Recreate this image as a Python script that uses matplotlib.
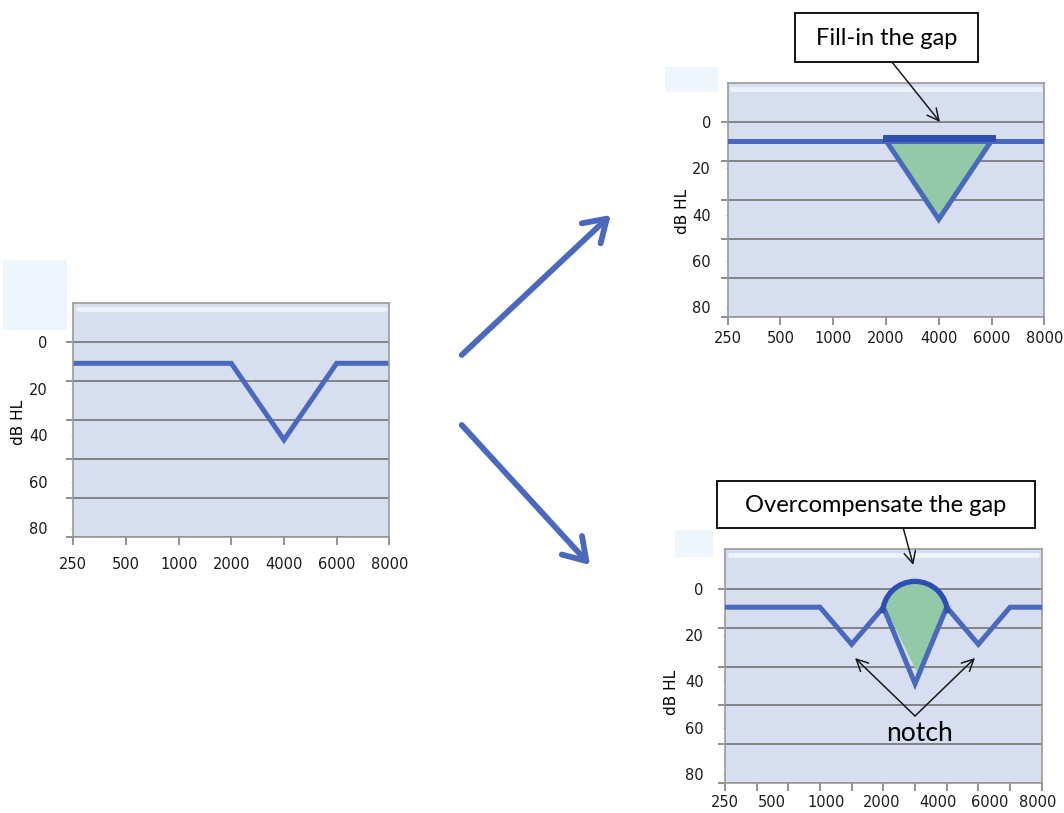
import matplotlib
matplotlib.use('Agg')
from matplotlib import pyplot as plt
from matplotlib.patches import Rectangle, Arc, Ellipse, Polygon
import numpy as np

W, H = 1064, 813

freq_labels = ['250', '500', '1000', '2000', '4000', '6000', '8000']
db_labels = [0, 20, 40, 60, 80]

# left: audiogram with the notch
orig_x = [0, 1, 2, 3, 4, 5, 6]
orig_db = [9, 9, 9, 9, 42, 9, 9]

# top right: fill-in the gap
fill_x = [0, 1, 2, 3, 4, 5, 6]
fill_db = [8, 8, 8, 8, 8, 8, 8]
fill_tri_x = [3, 4, 5]
fill_tri_db = [8, 42, 8]
fill_bar_x = [3, 5]
fill_bar_db = [7, 7]

# bottom right: overcompensate the gap
over_x = [0, 1, 2, 3, 4, 5, 6, 7, 8, 9, 10]
over_db = [8, 8, 8, 8, 24, 8, 41, 8, 24, 8, 8]
over_tri_x = [5.05, 6.1, 7.15]
over_tri_db = [8, 37, 7]
over_label_x = [0, 1.47, 3.19, 4.95, 6.73, 8.37, 9.88]
bump_x, bump_db = 6, 10.8
bump_w, bump_h = 2.05, 27.9

line_blue = '#4a69bd'
dark_blue = '#2c4fb2'
green = '#92c9a6'
plot_bg = '#d6def0'
grid_c = '#7c7c7c'

plt.rcParams['font.family'] = ['Lato', 'DejaVu Sans']


def fp(x, y):
    # pixel (from top-left) -> figure fraction
    return (x / W, 1 - y / H)


def make_ax(fig, left, top, right, bottom):
    return fig.add_axes([left / W, 1 - bottom / H, (right - left) / W, (bottom - top) / H])


def setup(ax, xmax, label_x, xpad, ypad, ylab_xy):
    ax.set_facecolor(plot_bg)
    ax.set_xlim(0, xmax)
    ax.set_ylim(84, -17)
    ax.xaxis.remove_overlapping_locs = False
    ax.yaxis.remove_overlapping_locs = False
    ax.set_xticks(range(xmax + 1))
    ax.set_xticklabels([])
    ax.set_xticks(label_x, freq_labels, minor=True, family='DejaVu Sans')
    ax.tick_params(axis='x', which='major', length=6, width=1.2, color='#808080')
    ax.tick_params(axis='x', which='minor', length=0, pad=xpad, labelsize=10.5,
                   labelcolor='#1a1a1a')
    ax.set_yticks(np.linspace(0, 84, 6))
    ax.set_yticklabels([])
    ax.set_yticks(db_labels, [str(v) for v in db_labels], minor=True, family='DejaVu Sans')
    ax.tick_params(axis='y', which='major', length=5, width=1.2, color=grid_c)
    ax.tick_params(axis='y', which='minor', length=1.5, color='#aaaaaa', pad=ypad,
                   labelsize=10.5, labelcolor='#1a1a1a')
    ax.grid(axis='y', which='major', color=grid_c, lw=1.3)
    ax.set_axisbelow(True)
    for s in ax.spines.values():
        s.set_color('#9a9a9a')
        s.set_linewidth(1.2)
    ax.plot([0.015, 0.985], [0.975, 0.975], transform=ax.transAxes, color='#eef2fa', lw=3.5,
            solid_capstyle='round', zorder=0.5)
    ax.set_ylabel('dB HL', fontsize=11, family='DejaVu Sans')
    ax.yaxis.set_label_coords(*ylab_xy)


fig = plt.figure(figsize=(W / 100, H / 100), dpi=100)

# pale boxes behind the charts
for (x0, y0, x1, y1) in [(3, 260, 67, 330), (665, 67, 718, 92), (675, 530, 713, 557)]:
    fig.add_artist(Rectangle(fp(x0, y1), (x1 - x0) / W, (y1 - y0) / H, transform=fig.transFigure,
                             facecolor='#eef5fd', edgecolor='none', zorder=0))

# left panel
ax1 = make_ax(fig, 73.3, 303, 389.3, 537.3)
setup(ax1, 6, orig_x, 14, 17, (-0.15, 0.49))
ax1.plot(orig_x, orig_db, color=line_blue, lw=3.6, solid_joinstyle='miter')

# top right panel
ax2 = make_ax(fig, 727.7, 82.7, 1044.3, 316.7)
setup(ax2, 6, fill_x, 10.5, 10.5, (-0.12, 0.45))
ax2.add_patch(Polygon(list(zip(fill_tri_x, fill_tri_db)), closed=True, facecolor=green,
                      edgecolor='none', zorder=2))
ax2.plot(fill_x, fill_db, color=line_blue, lw=3.6, zorder=3)
ax2.plot(fill_tri_x, fill_tri_db, color=line_blue, lw=3.6, zorder=3, solid_joinstyle='miter')
ax2.plot(fill_bar_x, fill_bar_db, color=dark_blue, lw=5, solid_capstyle='projecting', zorder=4)

# bottom right panel
ax3 = make_ax(fig, 725, 549.3, 1041.7, 783.3)
setup(ax3, 10, over_label_x, 8.5, 14, (-0.145, 0.39))
bump_fill = Ellipse((bump_x, bump_db), bump_w, bump_h, facecolor=green, edgecolor='none', zorder=2)
ax3.add_patch(bump_fill)
bump_fill.set_clip_path(Rectangle((4, -20), 4, 27.8, transform=ax3.transData))
ax3.add_patch(Polygon(list(zip(over_tri_x, over_tri_db)), closed=True, facecolor=green,
                      edgecolor='none', zorder=2))
ax3.plot(over_x, over_db, color=line_blue, lw=3.6, zorder=3, solid_joinstyle='miter')
ax3.add_patch(Arc((bump_x, bump_db), bump_w, bump_h, theta1=191.5, theta2=348.5,
                  color=dark_blue, lw=3.8, zorder=4))

# big arrows between panels
for tail, tip in [((461.7, 355), (610.7, 215)), ((461.7, 425), (590, 565))]:
    fig.add_artist(matplotlib.patches.FancyArrowPatch(fp(*tail), fp(*tip), transform=fig.transFigure,
                   arrowstyle='->,head_length=0.7,head_width=0.45', mutation_scale=22,
                   color=line_blue, lw=4.2, shrinkA=0, shrinkB=0))

# callout boxes
for (x0, y0, x1, y1, txt) in [(795, 13.3, 978.3, 61.7, 'Fill-in the gap'),
                              (716.7, 481, 1035, 528.3, 'Overcompensate the gap')]:
    fig.add_artist(Rectangle(fp(x0, y1), (x1 - x0) / W, (y1 - y0) / H, transform=fig.transFigure,
                             facecolor='white', edgecolor='black', lw=1.3))
    fig.text(*fp((x0 + x1) / 2, (y0 + y1) / 2 + 1), txt, ha='center', va='center', fontsize=17)

thin = dict(arrowstyle='->,head_length=0.6,head_width=0.3', color='#1a1a1a', lw=1.1,
            mutation_scale=14, shrinkA=0, shrinkB=0)
for tail, tip in [((891.7, 61.7), (940, 122)), ((903.3, 528.3), (913.3, 565)),
                  ((915, 716), (855, 658)), ((915, 716), (975, 658))]:
    fig.add_artist(matplotlib.patches.FancyArrowPatch(fp(*tail), fp(*tip),
                   transform=fig.transFigure, **thin))

fig.text(*fp(920, 733), 'notch', ha='center', va='center', fontsize=19)

fig.savefig('out.png', dpi=100)
